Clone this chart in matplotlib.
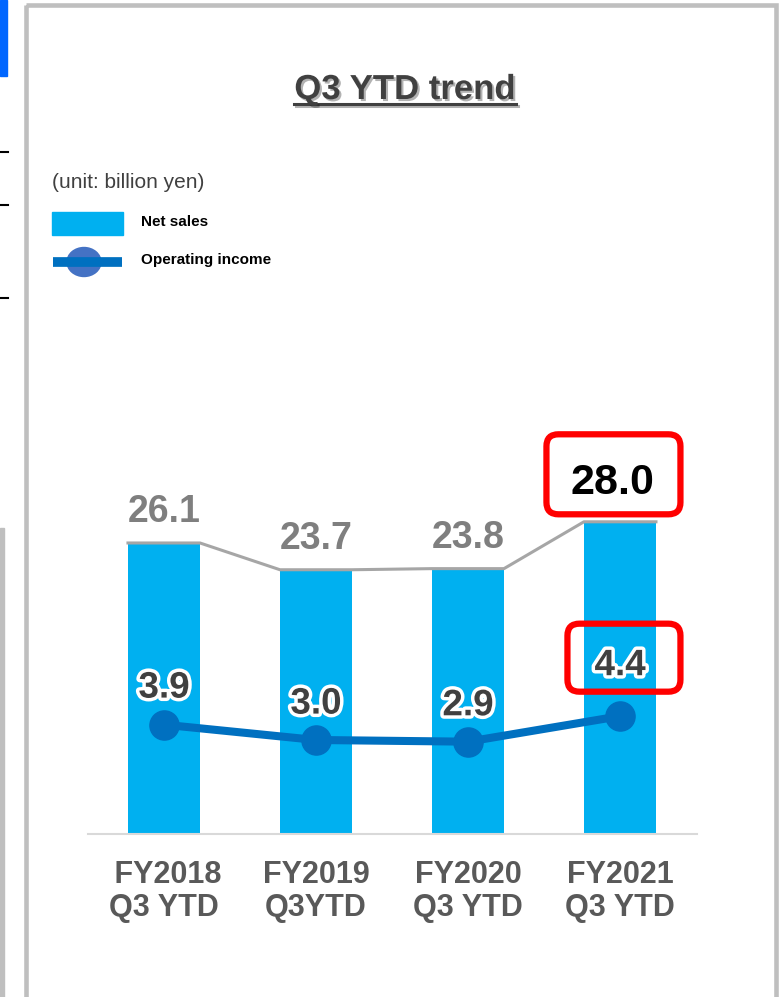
import matplotlib
matplotlib.use("Agg")
import matplotlib.pyplot as plt
import matplotlib.patheffects as pe
from matplotlib.patches import Rectangle, Ellipse, FancyBboxPatch
from matplotlib.transforms import ScaledTranslation
import numpy as np

plt.rcParams['font.family'] = ['Liberation Sans', 'DejaVu Sans']

# data
periods = [" FY2018\nQ3 YTD", "FY2019\nQ3YTD", "FY2020\nQ3 YTD", "FY2021\nQ3 YTD"]
net_sales = [26.1, 23.7, 23.8, 28.0]
operating_income = [3.9, 3.0, 2.9, 4.4]

BAR_BLUE = '#00b0f0'
LINE_BLUE = '#0070c0'
BORDER = '#bfbfbf'
W, H = 779, 997

fig = plt.figure(figsize=(W / 100, H / 100), dpi=100)

# pixel-space overlay for slide decorations and the legend
bg = fig.add_axes([0, 0, 1, 1])
bg.set_xlim(0, W)
bg.set_ylim(H, 0)
bg.axis('off')

# bits of the neighbouring slide on the left
bg.add_patch(Rectangle((0, 0), 7, 76, color='#0066ff'))
for yy in (152, 205, 298):
    bg.plot([0, 8], [yy, yy], color='black', lw=1.5)
bg.add_patch(Rectangle((0, 528), 4, 480, color=BORDER))

# panel frame
bg.add_patch(Rectangle((26.5, 5.5), 750, 1000, fill=False, ec=BORDER, lw=3.3))

# title with shadow + underline
title = fig.text(405 / W, 1 - 99 / H, "Q3 YTD trend", ha='center', va='baseline',
                 fontsize=25, fontweight='bold', color='#404040',
                 path_effects=[pe.SimplePatchShadow(offset=(1.5, -1.5), shadow_rgbFace='black', alpha=0.3),
                               pe.Normal()])

# unit note and legend
bg.text(52, 182, "(unit: billion yen)", fontsize=15, color='#404040', va='center')
bg.add_patch(Rectangle((52, 212), 71, 23, color=BAR_BLUE))
bg.text(141, 222, "Net sales", fontsize=11, fontweight='bold', va='center')
bg.plot([53, 122], [262, 262], color=LINE_BLUE, lw=7, solid_capstyle='butt')
bg.add_patch(Ellipse((84, 262), 34, 29, color='#4472c4'))
bg.text(141, 260, "Operating income", fontsize=11, fontweight='bold', va='center')

# main chart
ax = fig.add_axes([88 / W, 163 / H, 609 / W, 414 / H])
ax.patch.set_visible(False)
x = np.arange(len(periods))
w = 0.474
ax.bar(x, net_sales, width=w, color=BAR_BLUE, zorder=2)
ax.plot(np.column_stack([x - w / 2, x + w / 2]).ravel(), np.repeat(net_sales, 2),
        color='#a6a6a6', lw=2.2, zorder=3)
ax.set_xlim(-0.5, 3.507)
ax.set_ylim(0, 37.13)
for s in ('top', 'left', 'right'):
    ax.spines[s].set_visible(False)
ax.spines['bottom'].set_color('#d9d9d9')
ax.spines['bottom'].set_linewidth(1.5)
ax.set_yticks([])
ax.set_xticks(x, periods)
ax.tick_params(axis='x', length=0, pad=19, labelsize=22, labelcolor='#595959')
for lab in ax.get_xticklabels():
    lab.set_fontweight('bold')
    lab.set_linespacing(1.12)


def highlight(axis, xv, yv, box):
    """Red rounded frame placed in inches relative to a data point."""
    x0, y0, bw, bh = box
    trans = fig.dpi_scale_trans + ScaledTranslation(xv, yv, axis.transData)
    axis.add_patch(FancyBboxPatch((x0, y0), bw, bh, boxstyle='round,pad=0,rounding_size=0.12',
                                  fc='none', ec='#ff0000', lw=4.5, transform=trans,
                                  zorder=6, clip_on=False))


# net sales labels
for i, v in enumerate(net_sales[:-1]):
    ax.annotate(f"{v:.1f}", (x[i], v), xytext=(0, 15), textcoords='offset points',
                ha='center', va='baseline', fontsize=27, fontweight='bold', color='#7f7f7f')
ax.annotate(f"{net_sales[-1]:.1f}", (x[-1], net_sales[-1]), xytext=(-5.5, 20),
            textcoords='offset points', ha='center', va='baseline', fontsize=31,
            fontweight='bold', color='black', zorder=7)
highlight(ax, x[-1], net_sales[-1], (-0.735, 0.075, 1.34, 0.80))

# operating income line on its own scale
ax2 = ax.twinx()
ax2.set_ylim(-2.53, 21.82)
ax2.axis('off')
ax2.plot(x, operating_income, color=LINE_BLUE, lw=5.8, marker='o', ms=21, zorder=4)
oi_offsets = [19.5, 19, 19, 29.5]
glow = [pe.withStroke(linewidth=5, foreground='white')]
for i, v in enumerate(operating_income):
    ax2.annotate(f"{v:.1f}", (x[i], v), xytext=(0, oi_offsets[i]), textcoords='offset points',
                 ha='center', va='baseline', fontsize=26.5, fontweight='bold',
                 color='#404040', path_effects=glow)
highlight(ax2, x[-1], operating_income[-1], (-0.525, 0.245, 1.13, 0.68))

# underline under the title, sized from the rendered text
fig.canvas.draw()
bb = title.get_window_extent()
bg.plot([bb.x0, bb.x1], [104, 104], color='#404040', lw=2.2,
        path_effects=[pe.SimpleLineShadow(offset=(1.5, -1.5), alpha=0.3), pe.Normal()])

fig.savefig("out.png", dpi=100)
